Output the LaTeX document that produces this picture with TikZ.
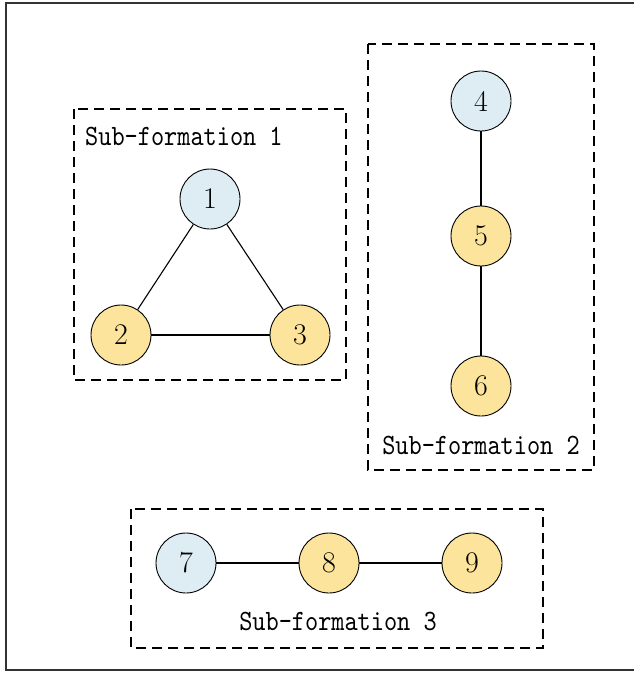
\documentclass[tikz,border=0pt]{standalone}
\usepackage{fontspec}
\newfontfamily\labfont[Extension=.otf,FakeStretch=0.85]{lmmono10-regular}
\definecolor{nblue}{HTML}{DDEDF3}
\definecolor{nyellow}{HTML}{FCE49C}
\definecolor{frame}{HTML}{333333}
\begin{document}
\begin{tikzpicture}[x=1pt,y=-1pt,
  agent/.style={circle,draw=black,line width=0.9pt,minimum size=60pt,inner sep=0pt,font=\fontsize{30}{30}\selectfont},
  leader/.style={agent,fill=nblue},
  follower/.style={agent,fill=nyellow},
  link/.style={line width=1.1pt},
  groupbox/.style={draw=black,line width=1.1pt,dash pattern=on 10pt off 6pt},
  grouplabel/.style={font=\labfont\fontsize{29.5}{29.5}\selectfont,inner sep=0pt}]
\useasboundingbox (0,0) rectangle (633,673);
\draw[frame,line width=1.3pt] (645,3) -- (6,3) -- (6,670) -- (645,670);
% boxes
\draw[groupbox] (74,109) rectangle (346,380);
\draw[groupbox] (368,44) rectangle (594,470);
\draw[groupbox] (131,509) rectangle (543,648);
\node[grouplabel,anchor=base west] (l1) at (85,145) {Sub-formation 1};
\node[grouplabel,anchor=base] (l2) at (481,454) {Sub-formation 2};
\node[grouplabel,anchor=base] (l3) at (338,630) {Sub-formation 3};
% nodes
\node[leader] (n1) at (210,199) {1};
\node[follower] (n2) at (121,335) {2};
\node[follower] (n3) at (300,335) {3};
\node[leader] (n4) at (481,101) {4};
\node[follower] (n5) at (481,236) {5};
\node[follower] (n6) at (481,386) {6};
\node[leader] (n7) at (186,563) {7};
\node[follower] (n8) at (329,563) {8};
\node[follower] (n9) at (472,563) {9};
% links
\draw[link] (n1) -- (n2);
\draw[link] (n1) -- (n3);
\draw[link] (n2) -- (n3);
\draw[link] (n4) -- (n5);
\draw[link] (n5) -- (n6);
\draw[link] (n7) -- (n8);
\draw[link] (n8) -- (n9);
\end{tikzpicture}
\end{document}
